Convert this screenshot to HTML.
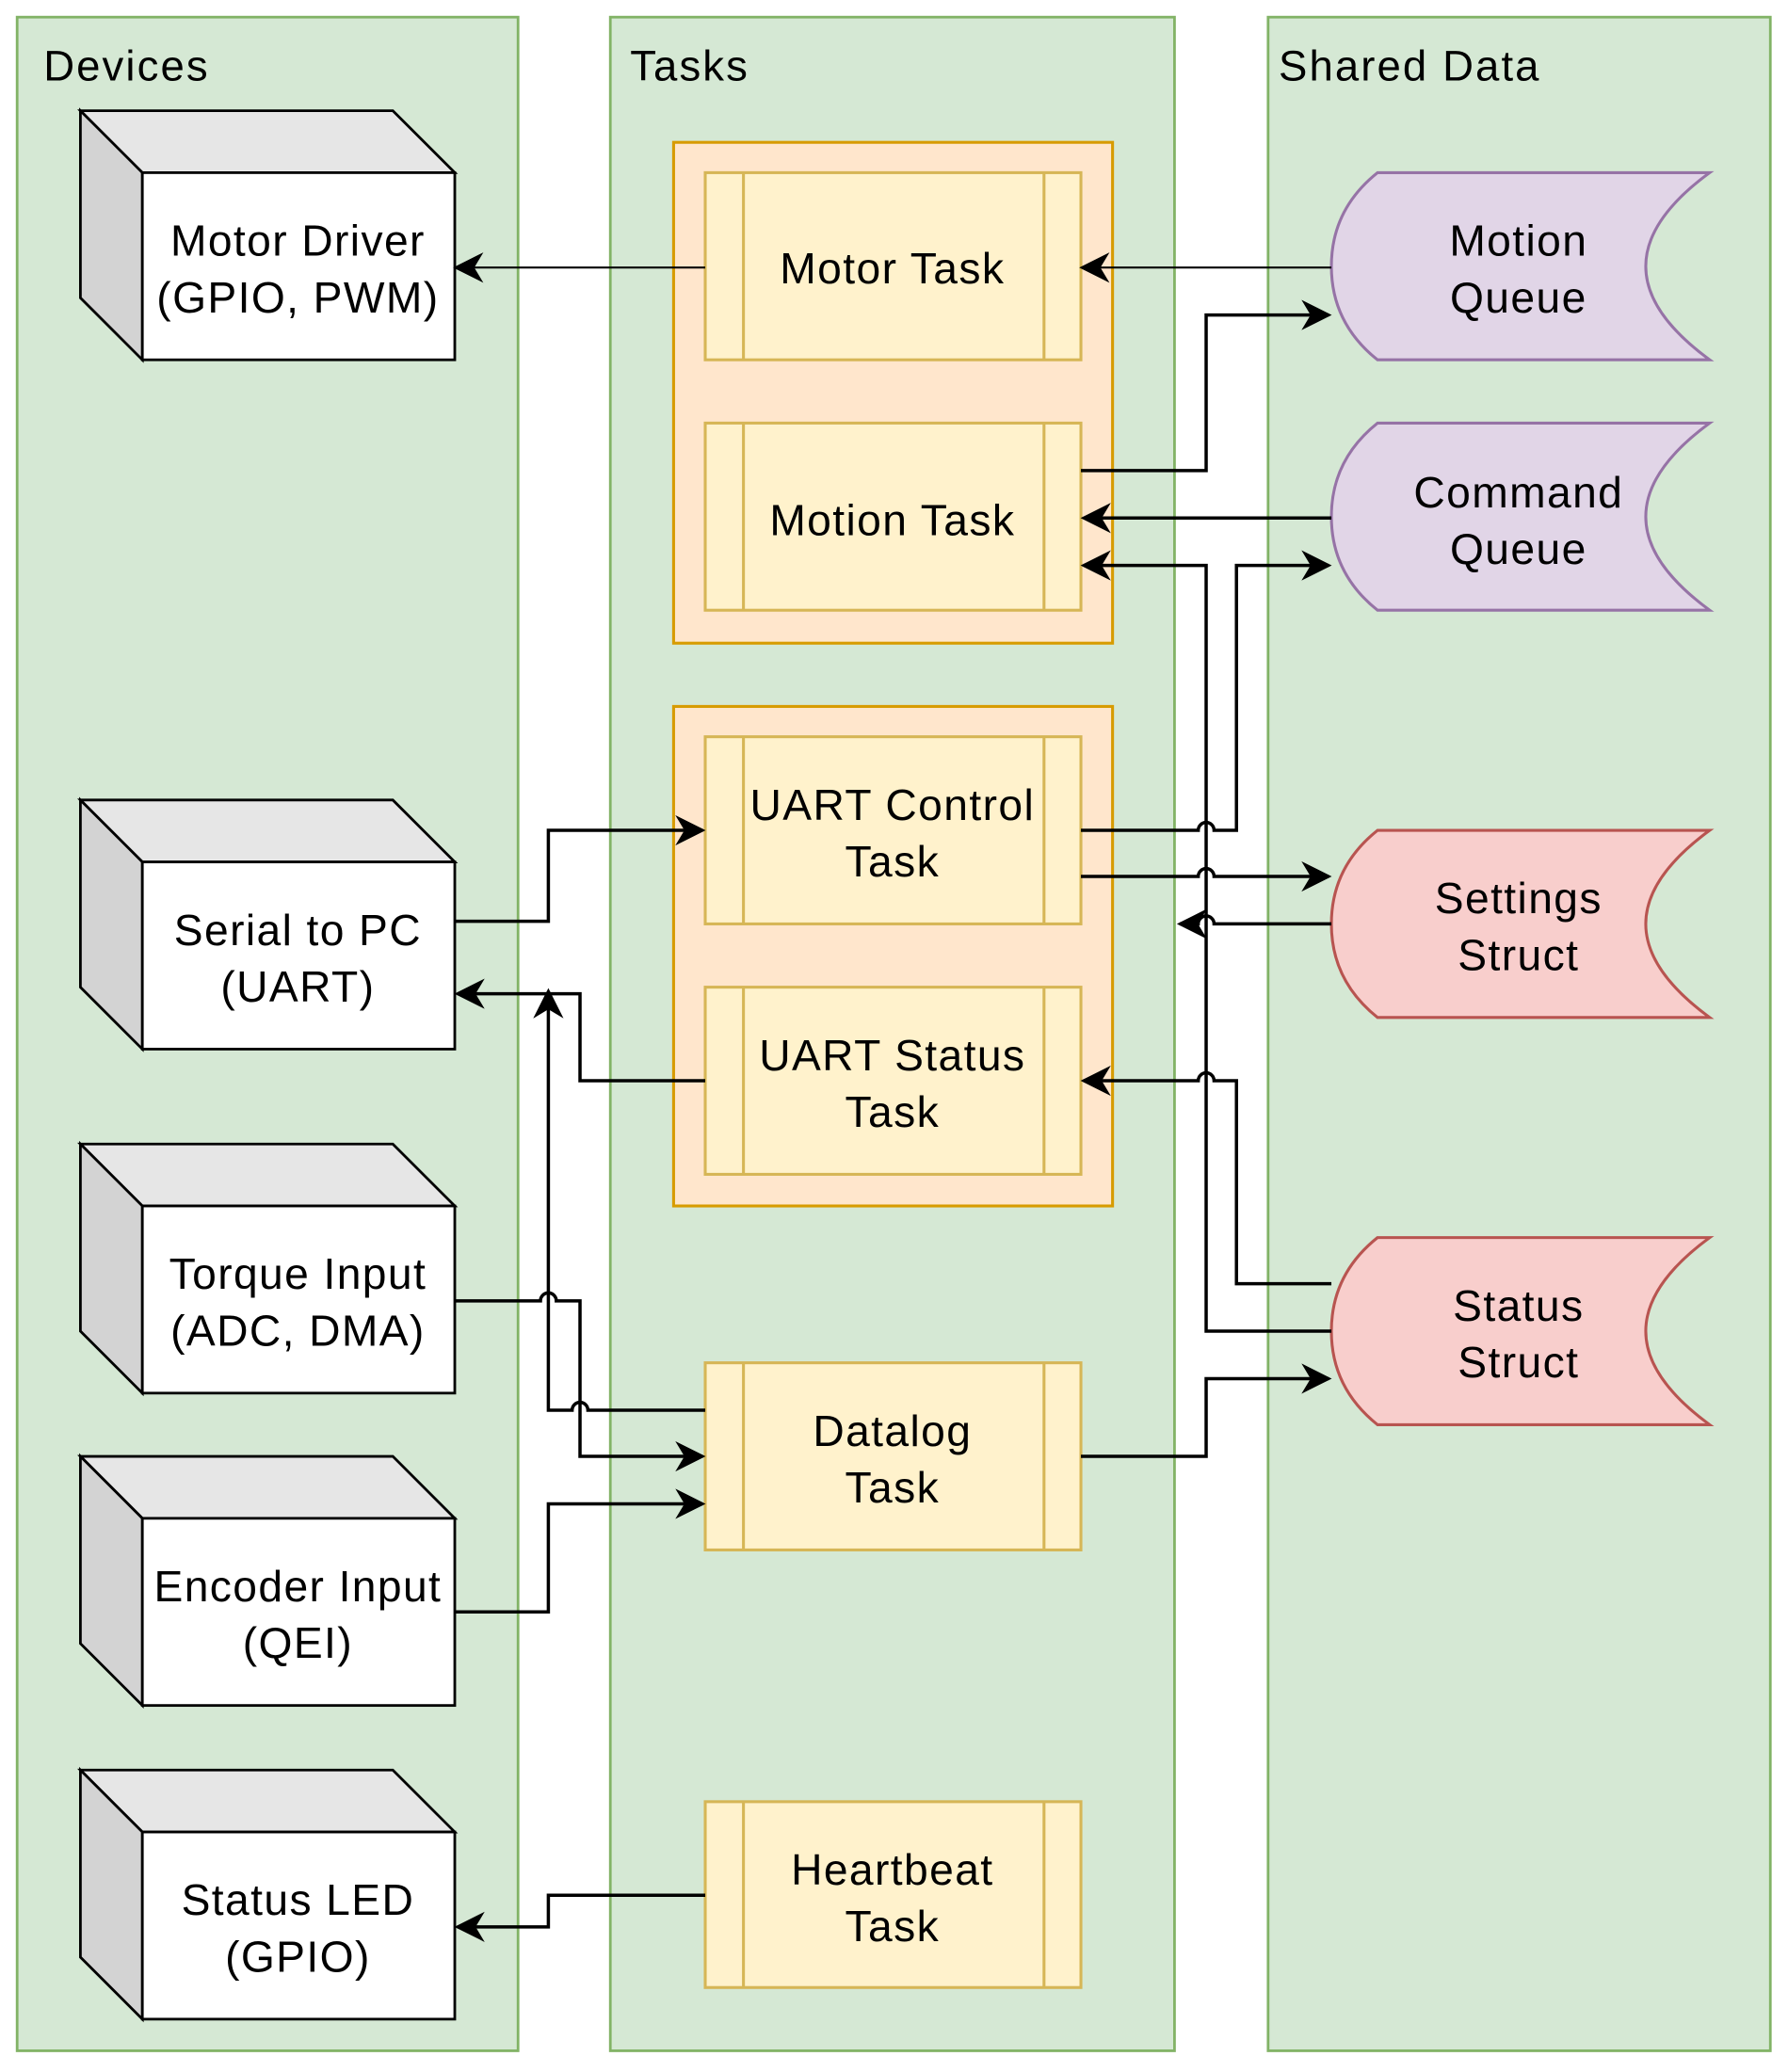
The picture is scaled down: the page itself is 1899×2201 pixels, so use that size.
<!DOCTYPE html>
<html><head><meta charset="utf-8"><style>html,body{margin:0;padding:0;background:#fff}svg{display:block}</style></head>
<body>
<svg width="1899" height="2201" viewBox="0 0 1356.4 1572.1" xmlns="http://www.w3.org/2000/svg" font-family="Liberation Sans, Arial, sans-serif">
<defs>
<marker id="b" viewBox="0 0 10 10" refX="9" refY="5" markerWidth="23" markerHeight="23" markerUnits="userSpaceOnUse" orient="auto">
<path d="M0,0 L10,5 L0,10 L3,5 Z" fill="#000"/></marker>
</defs>
<g fill="#d5e8d4" stroke="#82b366" stroke-width="2">
<rect x="13" y="13" width="380" height="1543"/>
<rect x="463" y="13" width="428" height="1543"/>
<rect x="962" y="13" width="381" height="1543"/>
</g>
<g font-size="32.5" fill="#000" letter-spacing="1.5">
<text x="33" y="61">Devices</text>
<text x="478" y="61">Tasks</text>
<text x="970" y="61">Shared Data</text>
</g>
<g stroke="#000" stroke-width="2">
<g transform="translate(0,0)"><polygon points="61,84 298,84 345,131 108,131" fill="#e6e6e6"/><polygon points="61,84 108,131 108,273 61,226" fill="#d3d3d3"/><rect x="108" y="131" width="237" height="142" fill="#fff"/></g>
<g transform="translate(0,523)"><polygon points="61,84 298,84 345,131 108,131" fill="#e6e6e6"/><polygon points="61,84 108,131 108,273 61,226" fill="#d3d3d3"/><rect x="108" y="131" width="237" height="142" fill="#fff"/></g>
<g transform="translate(0,784)"><polygon points="61,84 298,84 345,131 108,131" fill="#e6e6e6"/><polygon points="61,84 108,131 108,273 61,226" fill="#d3d3d3"/><rect x="108" y="131" width="237" height="142" fill="#fff"/></g>
<g transform="translate(0,1021)"><polygon points="61,84 298,84 345,131 108,131" fill="#e6e6e6"/><polygon points="61,84 108,131 108,273 61,226" fill="#d3d3d3"/><rect x="108" y="131" width="237" height="142" fill="#fff"/></g>
<g transform="translate(0,1259)"><polygon points="61,84 298,84 345,131 108,131" fill="#e6e6e6"/><polygon points="61,84 108,131 108,273 61,226" fill="#d3d3d3"/><rect x="108" y="131" width="237" height="142" fill="#fff"/></g>
</g>
<g fill="#ffe6cc" stroke="#d79b00" stroke-width="2.2">
<rect x="511" y="108" width="333" height="380"/>
<rect x="511" y="536" width="333" height="379"/>
</g>
<g fill="#fff2cc" stroke="#d6b656" stroke-width="2.2">
<rect x="535" y="131" width="285" height="142"/><path d="M564,131V273M792,131V273" fill="none"/>
<rect x="535" y="321" width="285" height="142"/><path d="M564,321V463M792,321V463" fill="none"/>
<rect x="535" y="559" width="285" height="142"/><path d="M564,559V701M792,559V701" fill="none"/>
<rect x="535" y="749" width="285" height="142"/><path d="M564,749V891M792,749V891" fill="none"/>
<rect x="535" y="1034" width="285" height="142"/><path d="M564,1034V1176M792,1034V1176" fill="none"/>
<rect x="535" y="1367" width="285" height="141"/><path d="M564,1367V1508M792,1367V1508" fill="none"/>
</g>
<g stroke-width="2.2">
<path transform="translate(0,0)" d="M1045,131 L1297,131 Q1200,202 1297,273 L1045,273 Q1010,245 1010,202 Q1010,159 1045,131 Z" fill="#e1d5e7" stroke="#9673a6"/>
<path transform="translate(0,190)" d="M1045,131 L1297,131 Q1200,202 1297,273 L1045,273 Q1010,245 1010,202 Q1010,159 1045,131 Z" fill="#e1d5e7" stroke="#9673a6"/>
<path transform="translate(0,499)" d="M1045,131 L1297,131 Q1200,202 1297,273 L1045,273 Q1010,245 1010,202 Q1010,159 1045,131 Z" fill="#f8cecc" stroke="#b85450"/>
<path transform="translate(0,808)" d="M1045,131 L1297,131 Q1200,202 1297,273 L1045,273 Q1010,245 1010,202 Q1010,159 1045,131 Z" fill="#f8cecc" stroke="#b85450"/>
</g>
<g font-size="33" fill="#000" text-anchor="middle" letter-spacing="1">
<text x="226" y="194">Motor Driver</text><text x="226" y="237">(GPIO, PWM)</text>
<text x="226" y="717">Serial to PC</text><text x="226" y="760">(UART)</text>
<text x="226" y="978">Torque Input</text><text x="226" y="1021">(ADC, DMA)</text>
<text x="226" y="1215">Encoder Input</text><text x="226" y="1258">(QEI)</text>
<text x="226" y="1453">Status LED</text><text x="226" y="1496">(GPIO)</text>
<text x="677" y="215">Motor Task</text>
<text x="677" y="406">Motion Task</text>
<text x="677" y="622">UART Control</text><text x="677" y="665">Task</text>
<text x="677" y="812">UART Status</text><text x="677" y="855">Task</text>
<text x="677" y="1097">Datalog</text><text x="677" y="1140">Task</text>
<text x="677" y="1430">Heartbeat</text><text x="677" y="1473">Task</text>
<text x="1152" y="194">Motion</text><text x="1152" y="237">Queue</text>
<text x="1152" y="385">Command</text><text x="1152" y="428">Queue</text>
<text x="1152" y="693">Settings</text><text x="1152" y="736">Struct</text>
<text x="1152" y="1002">Status</text><text x="1152" y="1045">Struct</text>
</g>
<g fill="none" stroke="#000">
<path d="M535,203H346" stroke-width="1.5" marker-end="url(#b)"/>
<path d="M1010,203H821" stroke-width="1.5" marker-end="url(#b)"/>
<g stroke-width="2.5">
<path d="M820,357H915V239H1008" marker-end="url(#b)"/>
<path d="M1010,393H822" marker-end="url(#b)"/>
<path d="M1010,1010H915V429H822" marker-end="url(#b)"/>
<path d="M820,630H909a6,6 0 0 1 12,0H938V429H1008" marker-end="url(#b)"/>
<path d="M820,665H909a6,6 0 0 1 12,0H1008" marker-end="url(#b)"/>
<path d="M1010,701H921a6,6 0 0 0 -12,0H895" marker-end="url(#b)"/>
<path d="M1010,974H938V820H921a6,6 0 0 0 -12,0H822" marker-end="url(#b)"/>
<path d="M345,699H416V630H533" marker-end="url(#b)"/>
<path d="M535,820H440V754H347" marker-end="url(#b)"/>
<path d="M535,1070H446a6,6 0 0 0 -12,0H416V752" marker-end="url(#b)"/>
<path d="M345,987H410a6,6 0 0 1 12,0H440V1105H533" marker-end="url(#b)"/>
<path d="M345,1223H416V1141H533" marker-end="url(#b)"/>
<path d="M820,1105H915V1046H1008" marker-end="url(#b)"/>
<path d="M535,1438H416V1462H347" marker-end="url(#b)"/>
</g>
</g>
</svg>
</body></html>
